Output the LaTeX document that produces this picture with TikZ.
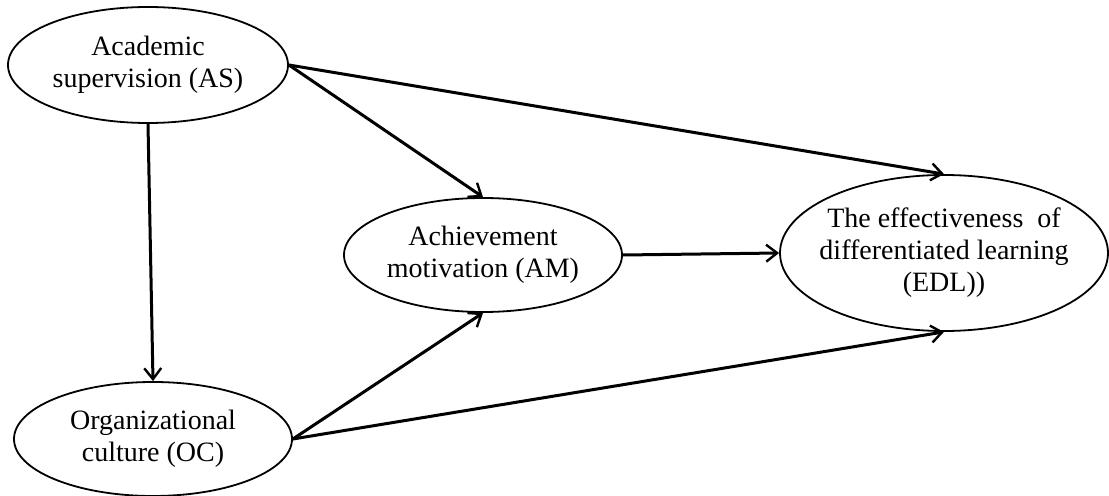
\documentclass[tikz,border=0pt]{standalone}
\usepackage{fontspec}
\setmainfont{Liberation Serif}
\usetikzlibrary{shapes.geometric,arrows.meta}
\begin{document}
\begin{tikzpicture}[x=1bp,y=-1bp,
  oval/.style={draw, ellipse, line width=1.8bp, inner sep=0pt},
  lbl/.style={align=center, font=\fontsize{28bp}{32bp}\selectfont, inner sep=0pt},
  arr/.style={-{Straight Barb[length=11bp,width=17bp,line width=2.4bp]}, line width=3bp}]
\useasboundingbox[fill=white] (0,0) rectangle (1109,496);
\node[oval, minimum width=280bp, minimum height=116bp] (AS) at (148,65) {};
\node[oval, minimum width=278bp, minimum height=114bp] (OC) at (153,439) {};
\node[oval, minimum width=278bp, minimum height=114bp] (AM) at (483,255) {};
\node[oval, minimum width=328bp, minimum height=156bp] (EDL) at (944,253) {};
\node[lbl] (AStext) at (AS.center) {Academic\\supervision (AS)};
\node[lbl] (OCtext) at (OC.center) {Organizational\\culture (OC)};
\node[lbl] (AMtext) at (AM.center) {Achievement\\motivation (AM)};
\node[lbl] (EDLtext) at (EDL.center) {The effectiveness\ \ of\\differentiated learning\\(EDL))};
\draw[arr] (AS.south) -- (OC.north);
\draw[arr] (AS.east) -- (AM.north);
\draw[arr] (AS.east) -- (EDL.north);
\draw[arr] (OC.east) -- (AM.south);
\draw[arr] (OC.east) -- (EDL.south);
\draw[arr] (AM.east) -- (EDL.west);
\end{tikzpicture}
\end{document}
